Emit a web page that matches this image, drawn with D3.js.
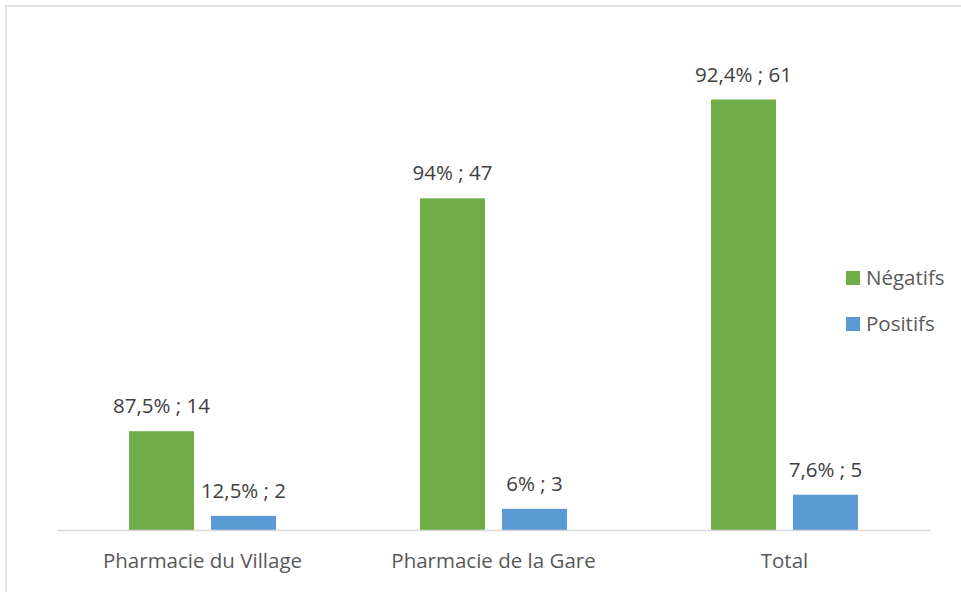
<!DOCTYPE html>
<html><head><meta charset="utf-8">
<script src="https://cdn.jsdelivr.net/npm/d3@7"></script>
<style>body{margin:0;background:#fff}svg{display:block}</style>
</head><body>
<script>
const categories = ["Pharmacie du Village", "Pharmacie de la Gare", "Total"];
const seriesNames = ["Négatifs", "Positifs"];
const negatifs = [14, 47, 61];
const positifs = [2, 3, 5];
const negLabels = ["87,5% ; 14", "94% ; 47", "92,4% ; 61"];
const posLabels = ["12,5% ; 2", "6% ; 3", "7,6% ; 5"];
const colors = ["#70AD47", "#5B9BD5"];

const W = 961, H = 592;
const svg = d3.select("body").append("svg").attr("width", W).attr("height", H);
const font = "'Open Sans', sans-serif";
const fs = 20.5;

svg.append("rect").attr("x", 6).attr("y", 6).attr("width", 1200).attr("height", 1200)
  .attr("fill", "none").attr("stroke", "#d9d9d9").attr("stroke-width", 1.5);

const x0 = d3.scaleBand().domain(categories).range([57, 930]).paddingInner(0.495).paddingOuter(0.2475);
const x1 = d3.scaleBand().domain(seriesNames).range([0, x0.bandwidth()]).paddingInner(0.207);
const y = d3.scaleLinear().domain([0, 70]).range([530, 36]);

const data = categories.map((c, i) => ({cat: c, vals: [
  {s: seriesNames[0], v: negatifs[i], l: negLabels[i], c: colors[0]},
  {s: seriesNames[1], v: positifs[i], l: posLabels[i], c: colors[1]}]}));

const g = svg.selectAll("g.cat").data(data).enter().append("g")
  .attr("transform", d => `translate(${x0(d.cat)},0)`);
g.selectAll("rect").data(d => d.vals).enter().append("rect")
  .attr("x", d => x1(d.s)).attr("width", x1.bandwidth())
  .attr("y", d => y(d.v)).attr("height", d => y(0) - y(d.v))
  .attr("fill", d => d.c);
g.selectAll("text").data(d => d.vals).enter().append("text")
  .attr("x", d => x1(d.s) + x1.bandwidth() / 2).attr("y", d => y(d.v) - 18)
  .attr("text-anchor", "middle").attr("font-family", font).attr("font-size", fs)
  .attr("fill", "#404040").text(d => d.l);

const xAxis = svg.append("g").attr("transform", `translate(0,${y(0)})`)
  .call(d3.axisBottom(x0).tickSize(0).tickPadding(0));
xAxis.select(".domain").attr("stroke", "#d9d9d9").attr("stroke-width", 1.5);
xAxis.selectAll("text").attr("font-family", font).attr("font-size", fs)
  .attr("fill", "#595959").attr("dy", 0).attr("y", 38);

const leg = svg.selectAll("g.leg").data(seriesNames).enter().append("g")
  .attr("transform", (d, i) => `translate(846,${271 + i * 46})`);
leg.append("rect").attr("width", 14).attr("height", 14).attr("fill", (d, i) => colors[i]);
leg.append("text").attr("x", 20).attr("y", 13.5).attr("font-family", font).attr("font-size", fs)
  .attr("fill", "#595959").text(d => d);
</script>
</body></html>
